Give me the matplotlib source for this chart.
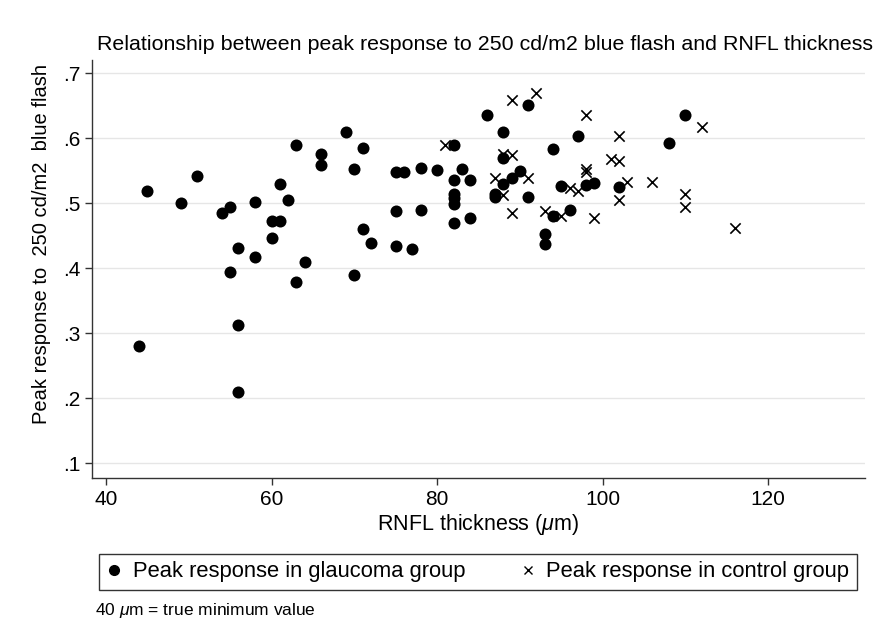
import numpy as np
import matplotlib
matplotlib.use("Agg")
import matplotlib.pyplot as plt
from matplotlib.ticker import FuncFormatter
from matplotlib.lines import Line2D

plt.rcParams['font.family'] = ['Liberation Sans', 'DejaVu Sans']
plt.rcParams['mathtext.fontset'] = 'custom'
plt.rcParams['mathtext.it'] = 'Liberation Sans:italic'

# glaucoma group (dots)
glau_rnfl = [44, 45, 49, 51, 54, 55, 55, 56, 56, 56, 58, 58, 60, 60, 61, 61, 62, 63, 63, 64,
             66, 66, 69, 70, 70, 71, 71, 72, 75, 75, 75, 76, 77, 78, 78, 80, 82, 82, 82, 82,
             82, 82, 83, 84, 84, 86, 87, 87, 88, 88, 88, 89, 90, 91, 91, 93, 93, 94, 94, 95,
             96, 97, 98, 99, 102, 108, 110]
glau_peak = [0.280, 0.518, 0.500, 0.541, 0.485, 0.494, 0.394, 0.431, 0.313, 0.209, 0.501, 0.417,
             0.473, 0.446, 0.529, 0.473, 0.504, 0.590, 0.379, 0.410, 0.575, 0.558, 0.610, 0.552,
             0.390, 0.584, 0.460, 0.439, 0.548, 0.488, 0.434, 0.548, 0.430, 0.554, 0.490, 0.551,
             0.590, 0.536, 0.514, 0.508, 0.498, 0.470, 0.552, 0.536, 0.477, 0.636, 0.514, 0.509,
             0.610, 0.569, 0.529, 0.538, 0.550, 0.651, 0.510, 0.453, 0.437, 0.583, 0.480, 0.526,
             0.490, 0.603, 0.527, 0.531, 0.524, 0.592, 0.636]

# control group (crosses)
ctrl_rnfl = [81, 87, 88, 88, 89, 89, 89, 91, 92, 93, 95, 96, 97, 98, 98, 98, 99, 101, 102,
             102, 102, 103, 106, 110, 110, 112, 116]
ctrl_peak = [0.590, 0.539, 0.575, 0.513, 0.574, 0.659, 0.485, 0.539, 0.670, 0.488, 0.480, 0.523,
             0.518, 0.636, 0.552, 0.548, 0.477, 0.568, 0.603, 0.565, 0.504, 0.532, 0.532, 0.514,
             0.494, 0.617, 0.461]

xticks = [40, 60, 80, 100, 120]
yticks = [0.1, 0.2, 0.3, 0.4, 0.5, 0.6, 0.7]

fig = plt.figure(figsize=(8.83, 6.39), dpi=100)
ax = fig.add_axes([92/883, 1-478/639, (865-92)/883, (478-60)/639])

ax.scatter(glau_rnfl, glau_peak, s=75, c='black', marker='o', linewidths=0, zorder=3)
ax.scatter(ctrl_rnfl, ctrl_peak, s=55, c='black', marker='x', linewidths=1.2, zorder=3)

ax.set_xlim(38.3, 131.7)
ax.set_ylim(0.077, 0.72)
ax.set_xticks(xticks)
ax.set_yticks(yticks)
ax.yaxis.set_major_formatter(FuncFormatter(lambda v, p: ('%.1f' % v).lstrip('0')))
ax.grid(axis='y', color='#e6e6e6', linewidth=1.0)
ax.set_axisbelow(True)
for s in ['top', 'right']:
    ax.spines[s].set_visible(False)
for s in ['left', 'bottom']:
    ax.spines[s].set_color('#333333')
    ax.spines[s].set_linewidth(1.0)
ax.tick_params(direction='out', length=5, width=1.0, color='#333333', labelsize=15)

ax.set_xlabel('RNFL thickness ($\\mu$m)', fontsize=15.5, labelpad=2)
ax.set_ylabel('Peak response to  250 cd/m2  blue flash', fontsize=14.5)
ax.yaxis.set_label_coords(-0.053, 0.56)

fig.text(485/883, 1-45/639, 'Relationship between peak response to 250 cd/m2 blue flash and RNFL thickness',
         ha='center', va='center', fontsize=15.4)

handles = [Line2D([], [], marker='o', color='black', linestyle='none', markersize=7),
           Line2D([], [], marker='x', color='black', linestyle='none', markersize=6, markeredgewidth=1.0)]
labels = ['Peak response in glaucoma group', 'Peak response in control group']
leg = fig.legend(handles, labels, ncol=2, loc='lower left', mode='expand',
                 bbox_to_anchor=(99/883, 1-590/639, (857-99)/883, (590-548)/639),
                 fontsize=15.8, frameon=True, fancybox=False, borderaxespad=0,
                 handlelength=0.7, handletextpad=0.5, columnspacing=0.5, borderpad=0.35)
leg.get_frame().set_edgecolor('black')
leg.get_frame().set_linewidth(1.0)

fig.text(95/883, 1-610/639, '40 $\\mu$m = true minimum value', ha='left', va='center', fontsize=12.5)

fig.savefig('out.png', dpi=100, facecolor='white')
